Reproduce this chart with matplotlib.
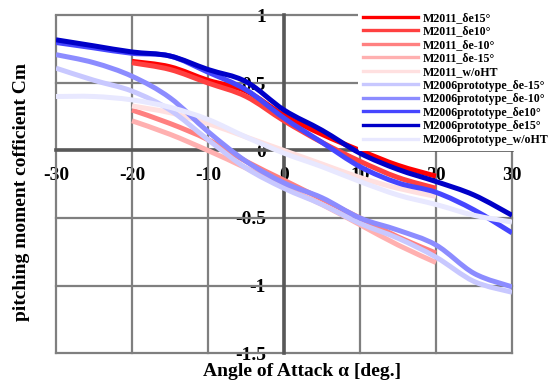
import numpy as np
import matplotlib.pyplot as plt
from matplotlib.path import Path
from matplotlib.patches import PathPatch
from matplotlib.lines import Line2D

plt.rcParams['font.family'] = ['Liberation Serif', 'DejaVu Serif']
plt.rcParams['font.weight'] = 'bold'

# angle of attack [deg]
aoa_2011 = [-20, -15, -10, -5, 0, 5, 10, 15, 20]
aoa_2006 = [-30, -25, -20, -15, -10, -5, 0, 5, 10, 15, 20, 25, 30]

# M2011 pitching moment
m2011_de15 = [0.66, 0.62, 0.52, 0.44, 0.26, 0.12, 0.00, -0.11, -0.19]
m2011_de10 = [0.65, 0.60, 0.50, 0.40, 0.22, 0.06, -0.08, -0.20, -0.28]
m2011_dem10 = [0.30, 0.20, 0.08, -0.08, -0.22, -0.36, -0.50, -0.64, -0.76]
m2011_dem15 = [0.22, 0.12, 0.00, -0.13, -0.27, -0.40, -0.55, -0.70, -0.83]
m2011_wo = [0.33, 0.28, 0.20, 0.10, 0.00, -0.10, -0.20, -0.28, -0.34]

# M2006 prototype pitching moment
m2006_dem15 = [0.61, 0.52, 0.44, 0.30, 0.08, -0.13, -0.28, -0.40, -0.54, -0.65, -0.79, -0.97, -1.05]
m2006_dem10 = [0.71, 0.65, 0.55, 0.39, 0.14, -0.08, -0.24, -0.35, -0.50, -0.59, -0.70, -0.91, -1.01]
m2006_de10 = [0.80, 0.76, 0.72, 0.70, 0.58, 0.45, 0.24, 0.06, -0.12, -0.24, -0.31, -0.44, -0.61]
m2006_de15 = [0.82, 0.775, 0.73, 0.70, 0.60, 0.51, 0.30, 0.15, -0.02, -0.14, -0.23, -0.33, -0.48]
m2006_wo = [0.40, 0.40, 0.375, 0.32, 0.23, 0.10, -0.02, -0.12, -0.23, -0.33, -0.40, -0.48, -0.53]

x_ticks = [-30, -20, -10, 0, 10, 20, 30]
y_ticks = [-1.5, -1, -0.5, 0, 0.5, 1]
y_ticklabels = ['-1.5', '-1', '-0.5', '0', '0.5', '1']

series = [
    (aoa_2011, m2011_de15, '#ff0000', 'M2011_δe15°'),
    (aoa_2011, m2011_de10, '#ff4040', 'M2011_δe10°'),
    (aoa_2011, m2011_dem10, '#ff8080', 'M2011_δe-10°'),
    (aoa_2011, m2011_dem15, '#ffb0b0', 'M2011_δe-15°'),
    (aoa_2011, m2011_wo, '#ffe0e0', 'M2011_w/oHT'),
    (aoa_2006, m2006_dem15, '#c8c8ff', 'M2006prototype_δe-15°'),
    (aoa_2006, m2006_dem10, '#8c8cff', 'M2006prototype_δe-10°'),
    (aoa_2006, m2006_de10, '#4646ff', 'M2006prototype_δe10°'),
    (aoa_2006, m2006_de15, '#0000c8', 'M2006prototype_δe15°'),
    (aoa_2006, m2006_wo, '#e8e8ff', 'M2006prototype_w/oHT'),
]


def smooth_path(x, y):
    # smoothed line like the spreadsheet one: bezier through the data points
    p = np.column_stack([x, y]).astype(float)
    q = np.vstack([p[0], p, p[-1]])
    verts = [p[0]]
    codes = [Path.MOVETO]
    for i in range(len(p) - 1):
        c1 = q[i + 1] + (q[i + 2] - q[i]) / 6
        c2 = q[i + 2] - (q[i + 3] - q[i + 1]) / 6
        verts += [c1, c2, q[i + 2]]
        codes += [Path.CURVE4] * 3
    return Path(verts, codes)


fig = plt.figure(figsize=(5.55, 3.82), dpi=100)
ax = fig.add_axes([56 / 555, 29 / 382, 456 / 555, 337.5 / 382])
ax.set_xlim(-30, 30)
ax.set_ylim(-1.5, 1)

# grid
for t in x_ticks:
    ax.axvline(t, color='#7f7f7f', lw=1.6, zorder=2.8, clip_on=False)
for t in y_ticks:
    ax.axhline(t, color='#7f7f7f', lw=1.6, zorder=2.8, clip_on=False)

handles = []
for x, y, c, lab in series:
    ax.add_patch(PathPatch(smooth_path(x, y), fill=False, edgecolor=c, lw=3.6,
                           joinstyle='round', capstyle='butt', zorder=3))
    handles.append(Line2D([], [], color=c, lw=2.4, label=lab))

for s in ['top', 'right']:
    ax.spines[s].set_visible(False)
ax.spines['left'].set_position('zero')
ax.spines['bottom'].set_position('zero')
for s in ['left', 'bottom']:
    ax.spines[s].set_color('#585858')
    ax.spines[s].set_linewidth(2.6)
    ax.spines[s].set_zorder(2.9)
ax.set_xticks(x_ticks)
ax.set_yticks(y_ticks)
ax.set_xticklabels([str(t) for t in x_ticks], fontweight='bold')
ax.set_yticklabels(y_ticklabels, fontweight='bold')
ax.tick_params(axis='both', length=0, labelsize=14)
ax.tick_params(axis='x', pad=12)
ax.tick_params(axis='y', pad=13)

fig.text(302 / 555, 1 - 371 / 382, 'Angle of Attack α [deg.]', ha='center',
         va='center', fontsize=14, fontweight='bold')
fig.text(22 / 555, 1 - 192 / 382, 'pitching moment cofficient Cm', ha='center',
         va='center', rotation=90, fontsize=14, fontweight='bold')

leg = fig.legend(handles=handles, loc='upper left',
                 bbox_to_anchor=(358 / 555, 1 - 7 / 382),
                 fontsize=8.6, frameon=True, facecolor='white', edgecolor='none',
                 framealpha=1, handlelength=4.6, handletextpad=0.4,
                 labelspacing=0.13, borderpad=0.4, borderaxespad=0)
leg.set_zorder(5)
for t in leg.get_texts():
    t.set_fontweight('bold')

fig.savefig('out.png', dpi=100)
